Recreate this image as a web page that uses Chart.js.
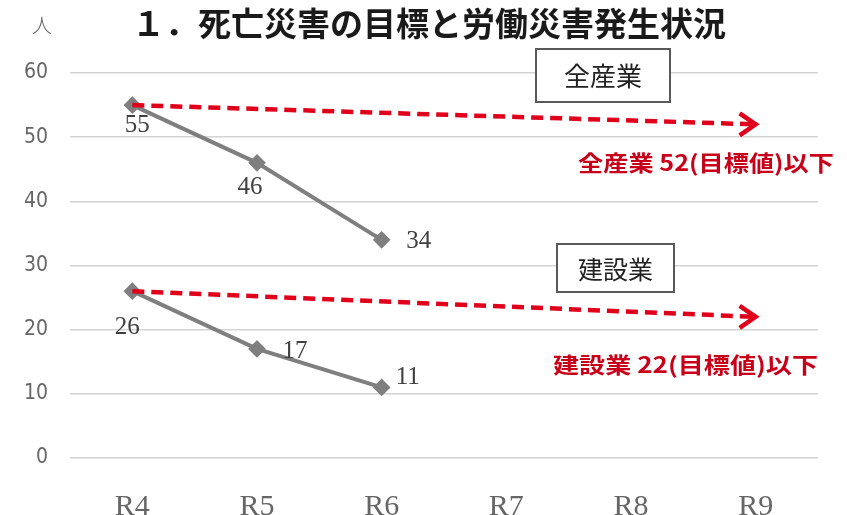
<!DOCTYPE html>
<html lang="ja">
<head>
<meta charset="utf-8">
<script src="https://cdn.jsdelivr.net/npm/chart.js@4/dist/chart.umd.min.js"></script>
<style>
  html, body { margin: 0; padding: 0; background: #fff; }
  #wrap { position: relative; width: 847px; height: 515px; }
</style>
</head>
<body>
<div id="wrap"><canvas id="c" width="847" height="515"></canvas></div>
<script>
// data
const years = ['R4', 'R5', 'R6', 'R7', 'R8', 'R9'];
const allIndustry = [55, 46, 34, null, null, null];
const construction = [26, 17, 11, null, null, null];
const allTarget = [55, null, null, null, null, 52];
const conTarget = [26, null, null, null, null, 22];
const yTicks = [0, 10, 20, 30, 40, 50, 60];

const GRAY = '#7f7f7f';
const RED = '#e0001b';
const TXT = '#595959';

// where each value label sits relative to its point (px)
const allLabelOff = [[5, 20], [-7, 25], [37, 2]];
const conLabelOff = [[-5, 36], [38, 3], [26, -10]];

const overlay = {
  id: 'overlay',
  afterDatasetsDraw(chart) {
    const ctx = chart.ctx;
    ctx.save();

    // value labels
    ctx.font = '25px "Liberation Serif", serif';
    ctx.fillStyle = '#404040';
    ctx.textAlign = 'center';
    ctx.textBaseline = 'middle';
    chart.data.datasets.forEach((ds, i) => {
      if (!ds.labelOff) return;
      chart.getDatasetMeta(i).data.forEach((pt, j) => {
        const v = ds.data[j];
        if (v == null) return;
        const o = ds.labelOff[j];
        ctx.fillText(String(v), pt.x + o[0], pt.y + o[1]);
      });
    });

    // arrow heads at the end of the target lines
    chart.data.datasets.forEach((ds, i) => {
      if (!ds.arrow) return;
      const pts = chart.getDatasetMeta(i).data;
      const end = pts[pts.length - 1];
      ctx.strokeStyle = RED;
      ctx.lineWidth = 4.5;
      ctx.lineCap = 'butt';
      ctx.lineJoin = 'miter';
      ctx.beginPath();
      ctx.moveTo(end.x - 16, end.y - 11);
      ctx.lineTo(end.x, end.y);
      ctx.lineTo(end.x - 16, end.y + 11);
      ctx.stroke();
    });

    // title and unit
    ctx.fillStyle = '#1a1a1a';
    ctx.textAlign = 'left';
    ctx.font = 'bold 33px "Noto Sans CJK JP", sans-serif';
    ctx.fillText('１．死亡災害の目標と労働災害発生状況', 132, 23);
    ctx.fillStyle = '#666';
    ctx.textAlign = 'center';
    ctx.font = '300 20px "Noto Sans CJK JP", sans-serif';
    ctx.fillText('人', 42, 25);

    // boxed captions
    const box = (text, x0, y0, x1, y1, size) => {
      ctx.fillStyle = '#fff';
      ctx.fillRect(x0, y0, x1 - x0, y1 - y0);
      ctx.strokeStyle = '#595959';
      ctx.lineWidth = 2;
      ctx.strokeRect(x0, y0, x1 - x0, y1 - y0);
      ctx.fillStyle = '#222';
      ctx.font = size + 'px "Noto Sans CJK JP", sans-serif';
      ctx.textAlign = 'center';
      ctx.fillText(text, (x0 + x1) / 2, (y0 + y1) / 2 + 1);
    };
    box('全産業', 536, 49, 670, 102, 26);
    box('建設業', 557, 244, 674, 292, 25);

    // red target notes, stretched to the reference width
    const note = (text, right, y, w) => {
      ctx.font = 'bold 22px "Noto Sans CJK JP", sans-serif';
      ctx.fillStyle = '#c8001a';
      ctx.textAlign = 'left';
      const m = ctx.measureText(text).width;
      ctx.save();
      ctx.translate(right - w, y);
      ctx.scale(w / m, 1);
      ctx.fillText(text, 0, 0);
      ctx.restore();
    };
    note('全産業 52(目標値)以下', 834, 163, 256);
    note('建設業 22(目標値)以下', 818, 365, 265);

    ctx.restore();
  }
};

new Chart(document.getElementById('c').getContext('2d'), {
  type: 'line',
  data: {
    labels: years,
    datasets: [
      { label: '全産業 目標', data: allTarget, spanGaps: true, borderColor: RED, borderWidth: 4.5,
        borderDash: [12, 7], pointRadius: 0, arrow: true, order: 0 },
      { label: '建設業 目標', data: conTarget, spanGaps: true, borderColor: RED, borderWidth: 4.5,
        borderDash: [12, 7], pointRadius: 0, arrow: true, order: 0 },
      { label: '全産業', data: allIndustry, borderColor: GRAY, backgroundColor: GRAY, borderWidth: 4,
        pointStyle: 'rectRot', pointRadius: 6, labelOff: allLabelOff, order: 1 },
      { label: '建設業', data: construction, borderColor: GRAY, backgroundColor: GRAY, borderWidth: 4,
        pointStyle: 'rectRot', pointRadius: 6, labelOff: conLabelOff, order: 1 },
    ],
  },
  options: {
    responsive: false,
    animation: false,
    layout: { padding: { top: 73, right: 29, bottom: 0, left: 0 } },
    plugins: { legend: { display: false }, tooltip: { enabled: false }, title: { display: false } },
    scales: {
      x: {
        offset: true,
        grid: { display: false },
        border: { display: false },
        ticks: { color: '#666', padding: 23, font: { family: '"Liberation Serif", serif', size: 30 } },
        afterFit: s => { s.height = 57; },
      },
      y: {
        min: 0, max: 60,
        afterBuildTicks: s => { s.ticks = yTicks.map(v => ({ value: v })); },
        grid: { color: '#d4d4d4', lineWidth: 1.5, drawTicks: false },
        border: { display: false },
        ticks: { color: '#666', padding: 22, font: { family: '"Liberation Sans Narrow", "DejaVu Sans Condensed", sans-serif', size: 21 } },
        afterFit: s => { s.width = 70; },
      },
    },
  },
  plugins: [overlay],
});
</script>
</body>
</html>
